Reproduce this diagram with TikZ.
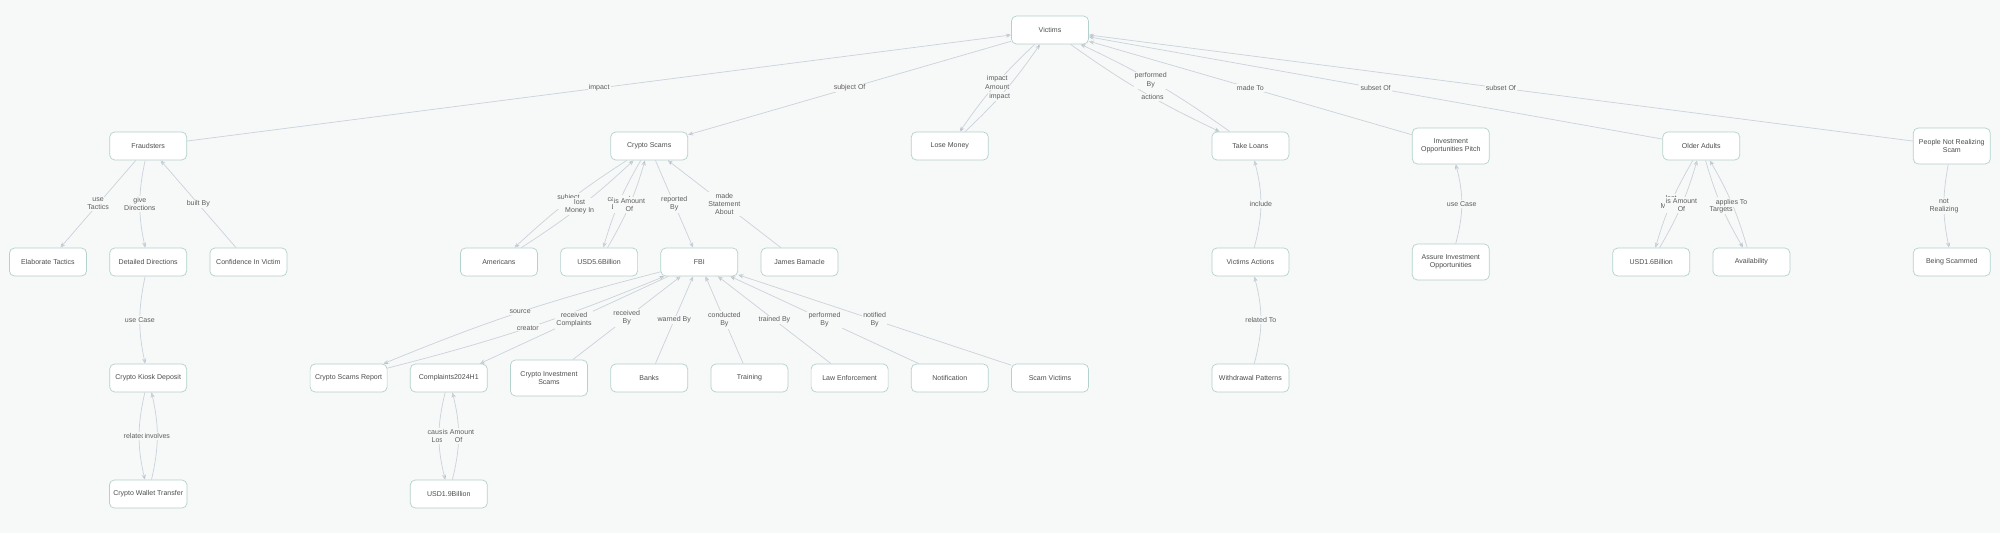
\documentclass[tikz,border=0pt]{standalone}
\usepackage{fontspec}
\setmainfont{Liberation Sans}
\usepackage{tikz}
\usetikzlibrary{positioning,arrows.meta}
\definecolor{bgcol}{HTML}{F7F8F8}
\definecolor{boxline}{HTML}{B3D2CC}
\definecolor{edgecol}{HTML}{CAD3DB}
\definecolor{nodetxt}{HTML}{4D4D4D}
\definecolor{lbltxt}{HTML}{5E5E5E}

\begin{document}
\begin{tikzpicture}[x=3.006cm,y=-3.48cm]
	\tikzset{concept/.style={draw=boxline,fill=white,rounded corners=0.15cm,line width=0.6pt,minimum width=2.31cm,minimum height=0.84cm,align=center,text=nodetxt,font=\fontsize{6}{7.2}\selectfont},
		tall/.style={minimum height=1.08cm},
		rel/.style={draw=edgecol,line width=0.6pt,-{Stealth[length=4.5pt,width=3.6pt]}},
		lbl/.style={fill=bgcol,inner sep=1pt,align=center,text=lbltxt,font=\fontsize{6}{7}\selectfont}}
	\fill[bgcol] (-1.44cm,0.9cm) rectangle (58.56cm,-15.09cm);
	\useasboundingbox (-1.44cm,0.9cm) rectangle (58.56cm,-15.09cm);
	\node[concept] (vic) at (10,0) {Victims};
	\node[concept] (fr) at (1,1) {Fraudsters};
	\node[concept] (cs) at (6,1) {Crypto Scams};
	\node[concept] (lm) at (9,1) {Lose Money};
	\node[concept] (tl) at (12,1) {Take Loans};
	\node[concept, tall] (iop) at (14,1) {Investment\\Opportunities Pitch};
	\node[concept] (oa) at (16.5,1) {Older Adults};
	\node[concept, tall] (pnr) at (19,1) {People Not Realizing\\Scam};
	\node[concept] (et) at (0,2) {Elaborate Tactics};
	\node[concept] (dd) at (1,2) {Detailed Directions};
	\node[concept] (civ) at (2,2) {Confidence In Victim};
	\node[concept] (am) at (4.5,2) {Americans};
	\node[concept] (usd56) at (5.5,2) {USD5.6Billion};
	\node[concept] (fbi) at (6.5,2) {FBI};
	\node[concept] (jb) at (7.5,2) {James Barnacle};
	\node[concept] (va) at (12,2) {Victims Actions};
	\node[concept, tall] (aio) at (14,2) {Assure Investment\\Opportunities};
	\node[concept] (usd16) at (16,2) {USD1.6Billion};
	\node[concept] (av) at (17,2) {Availability};
	\node[concept] (bs) at (19,2) {Being Scammed};
	\node[concept] (ckd) at (1,3) {Crypto Kiosk Deposit};
	\node[concept] (csr) at (3,3) {Crypto Scams Report};
	\node[concept] (c24) at (4,3) {Complaints2024H1};
	\node[concept, tall] (cis) at (5,3) {Crypto Investment\\Scams};
	\node[concept] (bk) at (6,3) {Banks};
	\node[concept] (tr) at (7,3) {Training};
	\node[concept] (le) at (8,3) {Law Enforcement};
	\node[concept] (nt) at (9,3) {Notification};
	\node[concept] (sv) at (10,3) {Scam Victims};
	\node[concept] (wp) at (12,3) {Withdrawal Patterns};
	\node[concept] (cwt) at (1,4) {Crypto Wallet Transfer};
	\node[concept] (usd19) at (4,4) {USD1.9Billion};
	\path[rel]
		(fr) edge node[lbl] {impact} (vic)
		(vic) edge node[lbl] {subject Of} (cs)
		(vic) edge[bend right=6] node[lbl, pos=0.46] {impact\\Amount} (lm)
		(lm) edge[bend right=6] node[lbl, pos=0.42] {impact} (vic)
		(vic) edge[bend right=5] node[lbl, pos=0.57] {actions} (tl)
		(tl) edge[bend right=5] node[lbl, pos=0.55] {performed\\By} (vic)
		(iop) edge node[lbl] {made To} (vic)
		(oa) edge node[lbl] {subset Of} (vic)
		(pnr) edge node[lbl] {subset Of} (vic)
		(fr) edge node[lbl] {use\\Tactics} (et)
		(fr) edge[bend right=12] node[lbl] {give\\Directions} (dd)
		(civ) edge node[lbl] {built By} (fr)
		(dd) edge[bend right=12] node[lbl] {use Case} (ckd)
		(ckd) edge[bend right=13] node[lbl] {related To} (cwt)
		(cwt) edge[bend right=13] node[lbl] {involves} (ckd)
		(cs) edge[bend right=5] node[lbl] {subject\\Of} (am)
		(am) edge[bend right=5] node[lbl] {lost\\Money In} (cs)
		(cs) edge[bend right=7] node[lbl] {caused\\Loss} (usd56)
		(usd56) edge[bend right=7] node[lbl] {is Amount\\Of} (cs)
		(cs) edge node[lbl] {reported\\By} (fbi)
		(jb) edge node[lbl] {made\\Statement\\About} (cs)
		(fbi) edge[bend right=4] node[lbl] {source} (csr)
		(csr) edge[bend right=4] node[lbl] {creator} (fbi)
		(fbi) edge node[lbl] {received\\Complaints} (c24)
		(cis) edge node[lbl] {received\\By} (fbi)
		(bk) edge node[lbl] {warned By} (fbi)
		(tr) edge node[lbl] {conducted\\By} (fbi)
		(le) edge node[lbl] {trained By} (fbi)
		(nt) edge node[lbl] {performed\\By} (fbi)
		(sv) edge node[lbl] {notified\\By} (fbi)
		(c24) edge[bend right=14] node[lbl] {caused\\Loss} (usd19)
		(usd19) edge[bend right=14] node[lbl] {is Amount\\Of} (c24)
		(va) edge[bend right=15] node[lbl] {include} (tl)
		(wp) edge[bend right=15] node[lbl] {related To} (va)
		(aio) edge[bend right=15] node[lbl] {use Case} (iop)
		(oa) edge[bend right=7] node[lbl] {lost\\Money} (usd16)
		(usd16) edge[bend right=7] node[lbl] {is Amount\\Of} (oa)
		(oa) edge[bend right=7] node[lbl] {has\\Targets} (av)
		(av) edge[bend right=7] node[lbl] {applies To} (oa)
		(pnr) edge[bend right=11] node[lbl] {not\\Realizing} (bs);
\end{tikzpicture}
\end{document}
